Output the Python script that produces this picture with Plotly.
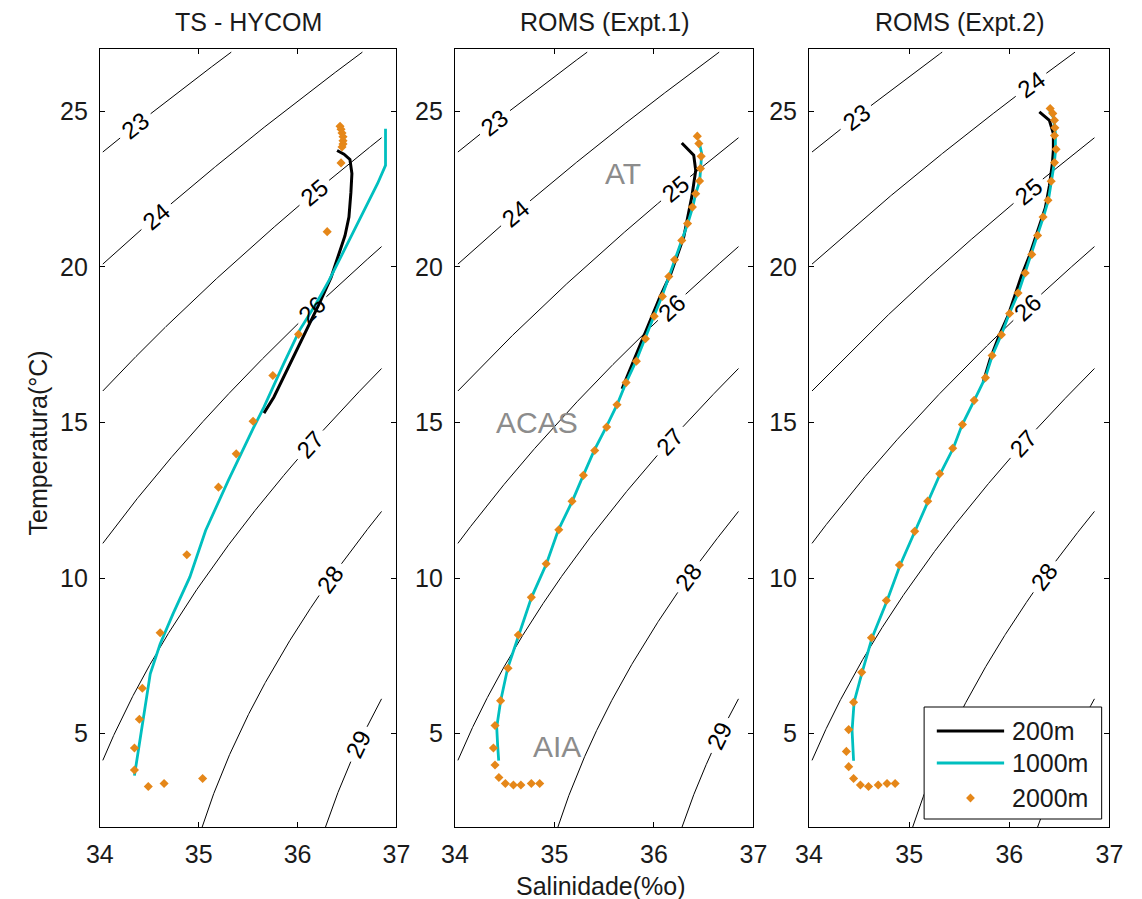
import numpy as np
import plotly.graph_objects as go
from plotly.subplots import make_subplots

# ---------------- profile data (salinity, temperature) ----------------
panel_titles = ["TS - HYCOM", "ROMS (Expt.1)", "ROMS (Expt.2)"]
depth_names = ["200m", "1000m", "2000m"]

hycom_200_sal = [36.40, 36.47, 36.53, 36.55, 36.54, 36.52, 36.48, 36.43, 36.34, 36.22, 36.09, 35.89, 35.76, 35.66]
hycom_200_temp = [23.74, 23.62, 23.45, 23.00, 22.40, 21.60, 21.00, 20.50, 19.67, 18.82, 17.96, 16.67, 15.81, 15.30]

hycom_1000_sal = [36.89, 36.89, 36.81, 36.61, 36.42, 36.32, 36.19, 36.02, 35.86, 35.66, 35.55, 35.46, 35.30,
                  35.07, 34.91, 34.74, 34.61, 34.51, 34.45, 34.40, 34.35]
hycom_1000_temp = [24.44, 23.26, 22.68, 21.39, 20.20, 19.57, 18.83, 17.96, 16.89, 15.49, 14.80, 14.20, 13.14,
                   11.53, 10.03, 8.85, 7.88, 6.92, 5.74, 4.78, 3.65]

hycom_2000_sal = [36.43, 36.44, 36.45, 36.46, 36.46, 36.46, 36.45, 36.44, 36.30, 36.01, 35.75, 35.55, 35.38,
                  35.20, 34.88, 34.61, 34.43, 34.40, 34.35, 34.35, 34.49, 34.65, 35.04]
hycom_2000_temp = [24.52, 24.42, 24.30, 24.18, 24.05, 23.95, 23.85, 23.34, 21.13, 17.83, 16.51, 15.04, 13.99,
                   12.92, 10.75, 8.24, 6.46, 5.46, 4.54, 3.83, 3.30, 3.40, 3.56]

expt1_200_sal = [36.28, 36.40, 36.42, 36.38, 36.30, 36.17, 36.06, 35.91, 35.78, 35.68]
expt1_200_temp = [23.98, 23.59, 23.10, 22.24, 20.96, 19.78, 19.03, 17.85, 16.89, 16.08]

expt1_1000_sal = [36.45, 36.48, 36.47, 36.46, 36.42, 36.39, 36.34, 36.28, 36.21, 36.15, 36.08, 36.00, 35.91,
                  35.82, 35.72, 35.63, 35.52, 35.40, 35.29, 35.18, 35.04, 34.92, 34.77, 34.64, 34.53, 34.46,
                  34.42, 34.43, 34.44]
expt1_1000_temp = [24.07, 23.65, 23.16, 22.76, 22.35, 21.92, 21.39, 20.85, 20.23, 19.69, 19.05, 18.41, 17.69,
                   16.97, 16.28, 15.57, 14.85, 14.10, 13.30, 12.47, 11.55, 10.46, 9.38, 8.17, 7.10, 6.06,
                   5.20, 4.60, 4.13]

expt1_2000_sal = [36.436, 36.452, 36.475, 36.468, 36.459, 36.420, 36.387, 36.338, 36.280, 36.208, 36.150,
                  36.085, 36.003, 35.915, 35.824, 35.720, 35.629, 35.525, 35.405, 35.291, 35.177, 35.044,
                  34.917, 34.768, 34.637, 34.534, 34.459, 34.403, 34.387, 34.403, 34.442, 34.507, 34.588,
                  34.663, 34.768, 34.852]
expt1_2000_temp = [24.20, 23.96, 23.55, 23.16, 22.76, 22.35, 21.92, 21.39, 20.85, 20.23, 19.69, 19.05, 18.41,
                   17.69, 16.97, 16.28, 15.57, 14.85, 14.10, 13.30, 12.47, 11.55, 10.46, 9.38, 8.17, 7.10,
                   6.06, 5.26, 4.54, 3.99, 3.59, 3.40, 3.35, 3.35, 3.40, 3.40]

expt2_200_sal = [36.30, 36.40, 36.44, 36.44, 36.43, 36.40, 36.36, 36.28, 36.20, 36.12, 36.06, 35.99, 35.90,
                 35.81, 35.74]
expt2_200_temp = [24.98, 24.71, 24.28, 23.75, 23.32, 22.60, 21.90, 21.10, 20.35, 19.70, 19.10, 18.45, 17.80,
                  17.05, 16.30]

expt2_1000_sal = [36.40, 36.44, 36.46, 36.46, 36.45, 36.42, 36.39, 36.34, 36.28, 36.22, 36.16, 36.09, 36.00,
                  35.92, 35.83, 35.76, 35.65, 35.53, 35.44, 35.31, 35.19, 35.06, 34.91, 34.78, 34.63, 34.53,
                  34.45, 34.43, 34.445]
expt2_1000_temp = [25.00, 24.80, 24.30, 23.70, 23.35, 22.75, 22.14, 21.60, 21.01, 20.40, 19.80, 19.16, 18.50,
                   17.82, 17.15, 16.44, 15.71, 14.93, 14.17, 13.35, 12.47, 11.50, 10.42, 9.28, 8.08, 6.97,
                   6.01, 5.10, 4.13]

expt2_2000_sal = [36.408, 36.434, 36.451, 36.455, 36.451, 36.467, 36.451, 36.418, 36.386, 36.337, 36.282,
                  36.224, 36.159, 36.087, 36.003, 35.921, 35.828, 35.762, 35.649, 35.532, 35.435, 35.305,
                  35.185, 35.055, 34.903, 34.772, 34.623, 34.526, 34.445, 34.396, 34.373, 34.396, 34.445,
                  34.513, 34.594, 34.691, 34.779, 34.860]
expt2_2000_temp = [25.09, 24.93, 24.71, 24.47, 24.22, 23.78, 23.35, 22.75, 22.14, 21.60, 21.01, 20.40, 19.80,
                   19.16, 18.50, 17.82, 17.15, 16.44, 15.71, 14.93, 14.17, 13.35, 12.47, 11.50, 10.42, 9.28,
                   8.08, 6.97, 6.01, 5.13, 4.43, 3.94, 3.56, 3.35, 3.30, 3.35, 3.40, 3.40]

# isopycnal levels (sigma-t) and the salinity where each level is labelled, per panel
sigma_levels = [23, 24, 25, 26, 27, 28, 29]
hycom_label_sal = {23: 34.36, 24: 34.57, 25: 36.17, 26: 36.15, 27: 36.13, 28: 36.33, 29: 36.62}
expt1_label_sal = {23: 34.40, 24: 34.61, 25: 36.22, 26: 36.18, 27: 36.16, 28: 36.35, 29: 36.66}
expt2_label_sal = {23: 34.47, 24: 36.22, 25: 36.19, 26: 36.18, 27: 36.14, 28: 36.35}

# water-mass names
water_masses = ["AT", "ACAS", "AIA"]
water_mass_sal = [35.69, 34.83, 35.03]
water_mass_temp = [23.0, 15.0, 4.6]

x_ticks = [34, 35, 36, 37]
y_ticks = [5, 10, 15, 20, 25]

# ---------------- styling / geometry ----------------
W, H = 1142, 899
FONT = "Liberation Sans, Arial, sans-serif"
TXT = "#1a1a1a"
C_200 = "black"
C_1000 = "rgb(0,191,191)"
C_2000 = "rgb(229,135,25)"
X_RANGE = [34, 37]
Y_RANGE = [2, 27]
S_MIN, S_MAX = 34.03, 36.85
T_MIN, T_MAX = 2.0, 26.9

x_domains_px = [(88, 392), (452, 758), (815, 1123)]
y_domain_px = (49, 827)


def px_x(x):
    return x / W


def px_y(y):
    return 1 - y / H


# ---------------- seawater density (UNESCO 1980, surface pressure) ----------------
def sigma_t(S, T):
    S = np.asarray(S, dtype=float)
    T = np.asarray(T, dtype=float)
    rho_w = (999.842594 + 6.793952e-2 * T - 9.095290e-3 * T**2 + 1.001685e-4 * T**3
             - 1.120083e-6 * T**4 + 6.536332e-9 * T**5)
    A = 0.824493 - 4.0899e-3 * T + 7.6438e-5 * T**2 - 8.2467e-7 * T**3 + 5.3875e-9 * T**4
    B = -5.72466e-3 + 1.0227e-4 * T - 1.6546e-6 * T**2
    C = 4.8314e-4
    return rho_w + A * S + B * S**1.5 + C * S**2 - 1000.0


def sal_on_level(level, temp):
    temp = np.atleast_1d(np.asarray(temp, dtype=float))
    lo = np.full_like(temp, 30.0)
    hi = np.full_like(temp, 40.0)
    for _ in range(60):
        mid = 0.5 * (lo + hi)
        below = sigma_t(mid, temp) < level
        lo = np.where(below, mid, lo)
        hi = np.where(below, hi, mid)
    return 0.5 * (lo + hi)


def temp_on_level(level, sal):
    sal = np.atleast_1d(np.asarray(sal, dtype=float))
    lo = np.full_like(sal, -1.0)
    hi = np.full_like(sal, 35.0)
    for _ in range(60):
        mid = 0.5 * (lo + hi)
        dense = sigma_t(sal, mid) > level
        lo = np.where(dense, mid, lo)
        hi = np.where(dense, hi, mid)
    return 0.5 * (lo + hi)


def isopycnal(level):
    t = np.arange(T_MIN, T_MAX + 1e-9, 0.02)
    s = sal_on_level(level, t)
    keep = (s >= S_MIN) & (s <= S_MAX)
    s, t = list(s[keep]), list(t[keep])
    for edge in (S_MIN, S_MAX):
        te = float(temp_on_level(level, edge)[0])
        if T_MIN <= te <= T_MAX:
            s.append(edge)
            t.append(te)
    order = np.argsort(t)
    return np.array(s)[order], np.array(t)[order]


panels = [
    dict(title=panel_titles[0],
         p200=(hycom_200_sal, hycom_200_temp),
         p1000=(hycom_1000_sal, hycom_1000_temp),
         p2000=(hycom_2000_sal, hycom_2000_temp),
         labels=hycom_label_sal),
    dict(title=panel_titles[1],
         p200=(expt1_200_sal, expt1_200_temp),
         p1000=(expt1_1000_sal, expt1_1000_temp),
         p2000=(expt1_2000_sal, expt1_2000_temp),
         labels=expt1_label_sal),
    dict(title=panel_titles[2],
         p200=(expt2_200_sal, expt2_200_temp),
         p1000=(expt2_1000_sal, expt2_1000_temp),
         p2000=(expt2_2000_sal, expt2_2000_temp),
         labels=expt2_label_sal),
]

fig = make_subplots(rows=1, cols=3)
annotations = []
GAP_PX = 19

for i, pan in enumerate(panels):
    col = i + 1
    xr = "x" if i == 0 else f"x{col}"
    yr = "y" if i == 0 else f"y{col}"
    x0, x1 = x_domains_px[i]
    kx = (x1 - x0) / (X_RANGE[1] - X_RANGE[0])
    ky = (y_domain_px[1] - y_domain_px[0]) / (Y_RANGE[1] - Y_RANGE[0])

    # isopycnals, broken where they carry a label
    for level in sigma_levels:
        s, t = isopycnal(level)
        mask = np.ones(len(s), dtype=bool)
        if level in pan["labels"]:
            s0 = pan["labels"][level]
            t0 = float(temp_on_level(level, s0)[0])
            d = np.hypot((s - s0) * kx, (t - t0) * ky)
            mask = d > GAP_PX
            sa = float(sal_on_level(level, t0 - 0.1)[0])
            sb = float(sal_on_level(level, t0 + 0.1)[0])
            ang = -np.degrees(np.arctan2(0.2 * ky, (sb - sa) * kx))
            annotations.append(dict(
                x=s0, y=t0, xref=xr, yref=yr, text=str(level), showarrow=False,
                textangle=float(ang), font=dict(family=FONT, size=24, color="black"),
                xanchor="center", yanchor="middle"))
        xs = [float(v) if m else None for v, m in zip(s, mask)]
        ys = [float(v) if m else None for v, m in zip(t, mask)]
        fig.add_trace(go.Scatter(x=xs, y=ys, mode="lines", line=dict(color="black", width=1),
                                 hoverinfo="skip", showlegend=False), row=1, col=col)

    fig.add_trace(go.Scatter(x=pan["p200"][0], y=pan["p200"][1], mode="lines", name=depth_names[0],
                             line=dict(color=C_200, width=3), showlegend=False), row=1, col=col)
    fig.add_trace(go.Scatter(x=pan["p1000"][0], y=pan["p1000"][1], mode="lines", name=depth_names[1],
                             line=dict(color=C_1000, width=2.8), showlegend=False), row=1, col=col)
    fig.add_trace(go.Scatter(x=pan["p2000"][0], y=pan["p2000"][1], mode="markers", name=depth_names[2],
                             marker=dict(symbol="diamond", size=7, color=C_2000, line=dict(width=0)),
                             showlegend=False), row=1, col=col)

    axis_common = dict(showline=True, linecolor="black", linewidth=1, mirror="ticks",
                       ticks="inside", ticklen=5, tickcolor="black", tickwidth=1,
                       showgrid=False, zeroline=False,
                       tickfont=dict(family=FONT, size=25, color=TXT))
    fig.update_xaxes(range=X_RANGE, tickvals=x_ticks, domain=[px_x(x0), px_x(x1)],
                     ticklabelstandoff=5, **axis_common, row=1, col=col)
    fig.update_yaxes(range=Y_RANGE, tickvals=y_ticks,
                     domain=[px_y(y_domain_px[1]), px_y(y_domain_px[0])],
                     ticklabelstandoff=6, **axis_common, row=1, col=col)

    annotations.append(dict(x=px_x((x0 + x1) / 2), y=px_y(22), xref="paper", yref="paper",
                            text=pan["title"], showarrow=False,
                            font=dict(family=FONT, size=25, color=TXT),
                            xanchor="center", yanchor="middle"))

# water-mass names in the middle panel
for name, s, t in zip(water_masses, water_mass_sal, water_mass_temp):
    annotations.append(dict(x=s, y=t, xref="x2", yref="y2", text=name, showarrow=False,
                            font=dict(family=FONT, size=30, color="rgb(140,140,140)"),
                            xanchor="center", yanchor="middle"))

# axis titles
annotations.append(dict(x=px_x(25), y=px_y(443), xref="paper", yref="paper", text="Temperatura(°C)",
                        textangle=-90, showarrow=False, font=dict(family=FONT, size=25, color=TXT),
                        xanchor="center", yanchor="middle"))
annotations.append(dict(x=px_x(602), y=px_y(886), xref="paper", yref="paper", text="Salinidade(%o)",
                        showarrow=False, font=dict(family=FONT, size=25, color=TXT),
                        xanchor="center", yanchor="middle"))

# legend box drawn in the third panel
shapes = []
lx0, lx1, ly0, ly1 = 933, 1115, 707, 819
shapes.append(dict(type="rect", xref="paper", yref="paper", x0=px_x(lx0), x1=px_x(lx1),
                   y0=px_y(ly1), y1=px_y(ly0), line=dict(color="black", width=1),
                   fillcolor="white", layer="above"))
row_y = [731, 763, 798]
shapes.append(dict(type="line", xref="paper", yref="paper", x0=px_x(946), x1=px_x(1015),
                   y0=px_y(row_y[0]), y1=px_y(row_y[0]), line=dict(color=C_200, width=3), layer="above"))
shapes.append(dict(type="line", xref="paper", yref="paper", x0=px_x(946), x1=px_x(1015),
                   y0=px_y(row_y[1]), y1=px_y(row_y[1]), line=dict(color=C_1000, width=3), layer="above"))
cx, cy, hw = 980.5, row_y[2], 4.5
diamond = (f"M {px_x(cx)},{px_y(cy - hw)} L {px_x(cx + hw)},{px_y(cy)} "
           f"L {px_x(cx)},{px_y(cy + hw)} L {px_x(cx - hw)},{px_y(cy)} Z")
shapes.append(dict(type="path", xref="paper", yref="paper", path=diamond,
                   fillcolor=C_2000, line=dict(width=0), layer="above"))
for name, yy in zip(depth_names, row_y):
    annotations.append(dict(x=px_x(1021), y=px_y(yy), xref="paper", yref="paper", text=name,
                            showarrow=False, font=dict(family=FONT, size=25, color=TXT),
                            xanchor="left", yanchor="middle"))

fig.update_layout(width=W, height=H, margin=dict(l=0, r=0, t=0, b=0),
                  paper_bgcolor="white", plot_bgcolor="white",
                  showlegend=False, annotations=annotations, shapes=shapes)

fig.write_html("out.html")
